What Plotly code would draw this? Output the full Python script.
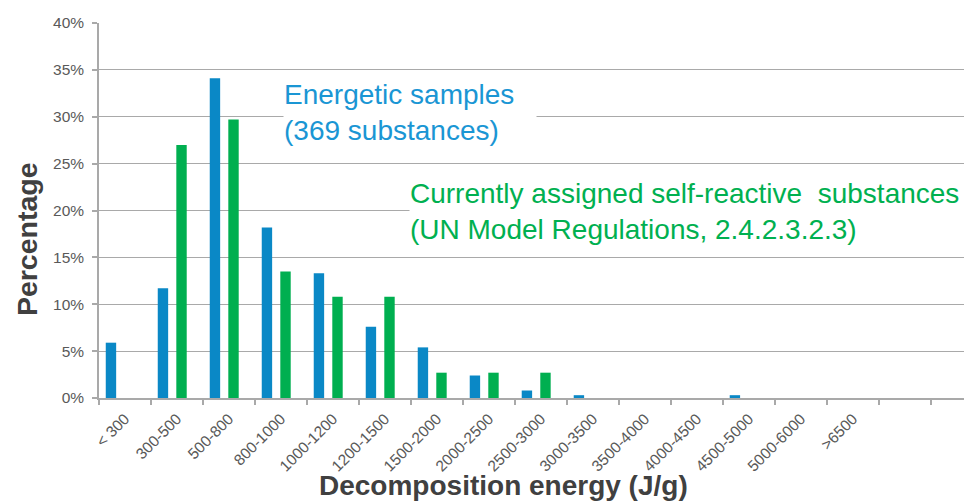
import plotly.graph_objects as go

categories = ["< 300", "300-500", "500-800", "800-1000", "1000-1200", "1200-1500",
              "1500-2000", "2000-2500", "2500-3000", "3000-3500", "3500-4000",
              "4000-4500", "4500-5000", "5000-6000", ">6500"]
extra_slots = [" ", "  "]  # two empty category slots at the right end of the axis

energetic = [5.9, 11.7, 34.1, 18.2, 13.3, 7.6, 5.4, 2.4, 0.8, 0.3, 0, 0, 0.3, 0, 0]
self_reactive = [0, 27.0, 29.7, 13.5, 10.8, 10.8, 2.7, 2.7, 2.7, 0, 0, 0, 0, 0, 0]

y_ticks = [0, 5, 10, 15, 20, 25, 30, 35, 40]

BLUE = "#0A88C6"
GREEN = "#00AF50"
GRID = "#A9A9A9"
FONT = "Liberation Sans, Arial, sans-serif"

all_cats = categories + extra_slots

fig = go.Figure()
fig.add_trace(go.Bar(x=categories, y=energetic, marker_color=BLUE, width=0.2,
                     offset=-0.37, marker_line_width=0, name="Energetic samples"))
fig.add_trace(go.Bar(x=categories, y=[v if v > 0 else None for v in self_reactive],
                     marker_color=GREEN, width=0.2, offset=-0.013,
                     marker_line_width=0, name="Self-reactive"))
# empty slots so that the axis keeps its two trailing category ticks
fig.add_trace(go.Bar(x=extra_slots, y=[None, None], showlegend=False, hoverinfo="skip"))

# the page body has an 8px default margin, so the figure is offset by (8, 8)
fig.update_layout(
    width=964, height=496,
    margin=dict(l=91, r=0, t=15, b=106),
    paper_bgcolor="white", plot_bgcolor="white",
    barmode="overlay", showlegend=False,
    font=dict(family=FONT, color="#595959"),
    xaxis=dict(
        type="category", categoryorder="array", categoryarray=all_cats,
        range=[-0.5, 16.29], tickson="boundaries",
        ticks="outside", ticklen=5, tickcolor=GRID, tickwidth=1.5,
        showline=True, linecolor=GRID, linewidth=1.5,
        showgrid=False, tickangle=-45, ticklabelstandoff=4,
        tickfont=dict(size=15.5, color="#595959", family=FONT),
    ),
    yaxis=dict(
        range=[0, 40], tickvals=y_ticks, ticktext=[f"{v}%" for v in y_ticks],
        ticks="outside", ticklen=5, tickcolor=GRID, tickwidth=1.5,
        showline=True, linecolor=GRID, linewidth=1.5, ticklabelstandoff=5,
        showgrid=True, gridcolor=GRID, gridwidth=1.3, zeroline=False,
        tickfont=dict(size=15.5, color="#595959", family=FONT),
    ),
)

fig.add_annotation(text="Energetic samples<br>(369 substances)", xref="x", yref="y",
                   x=3.04, y=30.5, xanchor="left", yanchor="middle", align="left",
                   showarrow=False, bgcolor="white", borderpad=0, width=252,
                   font=dict(size=28, color="#1A96D4", family=FONT))
fig.add_annotation(text="Currently assigned self-reactive  substances<br>(UN Model Regulations, 2.4.2.3.2.3)",
                   xref="x", yref="y", x=5.46, y=19.9, xanchor="left", yanchor="middle",
                   align="left", showarrow=False, bgcolor="white", borderpad=0, width=570,
                   font=dict(size=28, color="#00B050", family=FONT))
fig.add_annotation(text="<b>Decomposition energy (J/g)</b>", xref="x", yref="paper",
                   x=7.27, y=-0.186, xanchor="center", yanchor="top", showarrow=False,
                   font=dict(size=28, color="#404040", family=FONT))
fig.add_annotation(text="<b>Percentage</b>", xref="paper", yref="y",
                   x=-0.083, y=16.9, xanchor="center", yanchor="middle", textangle=-90,
                   showarrow=False, font=dict(size=28.5, color="#404040", family=FONT))

fig.write_html("out.html")
